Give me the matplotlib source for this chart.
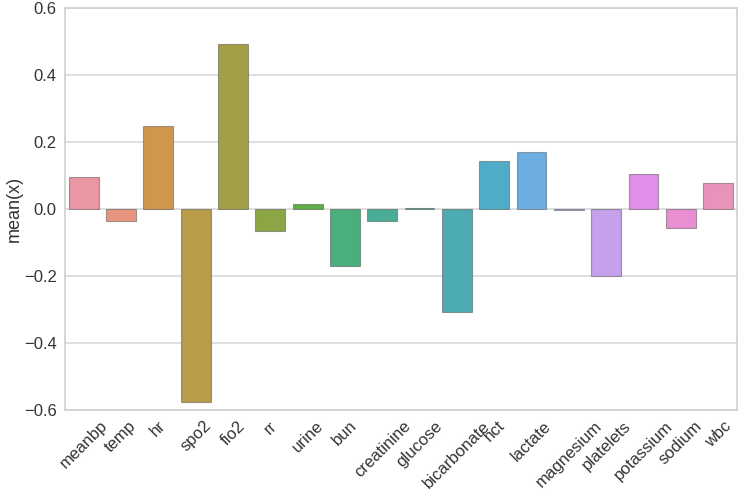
import matplotlib
matplotlib.use('Agg')
import matplotlib.pyplot as plt
import seaborn as sns
import numpy as np

# Data
features = ['meanbp', 'temp', 'hr', 'spo2', 'fio2', 'rr', 'urine', 'bun',
            'creatinine', 'glucose', 'bicarbonate', 'hct', 'lactate',
            'magnesium', 'platelets', 'potassium', 'sodium', 'wbc']
mean_x = [0.096, -0.036, 0.248, -0.576, 0.493, -0.066, 0.013, -0.170,
          -0.036, 0.002, -0.307, 0.143, 0.170, -0.003, -0.200, 0.104,
          -0.057, 0.078]
y_ticks = [-0.6, -0.4, -0.2, 0.0, 0.2, 0.4, 0.6]


def main():
    sns.set_style('whitegrid')
    plt.rcParams['font.family'] = ['Liberation Sans', 'DejaVu Sans']

    fig = plt.figure(figsize=(7.39, 4.92), dpi=100)
    ax = fig.add_axes([0.088, 0.167, 0.909, 0.817])

    palette = sns.husl_palette(len(features), l=.7)
    palette = [sns.desaturate(c, 0.75) for c in palette]
    x = np.arange(len(features))
    ax.bar(x, mean_x, width=0.8, color=palette,
           edgecolor=(0.25, 0.25, 0.25, 0.45), linewidth=0.8, zorder=2)

    ax.set_xlim(-0.5, len(features) - 0.5)
    ax.set_ylim(-0.6, 0.6)
    ax.set_yticks(y_ticks)
    ax.set_yticklabels(['\u22120.6', '\u22120.4', '\u22120.2', '0.0', '0.2', '0.4', '0.6'])
    ax.set_xticks(x)
    ax.set_xticklabels(features, rotation=45, ha='center')
    ax.xaxis.grid(False)
    ax.yaxis.grid(True, color='#d9d9d9', linewidth=1.2, zorder=0)
    ax.set_axisbelow(True)
    for s in ax.spines.values():
        s.set_color('#d0d0d0')
        s.set_linewidth(1.2)
    ax.tick_params(axis='both', labelsize=12, colors='#333333', length=0, pad=6)
    ax.set_ylabel('mean(x)', fontsize=13, color='#333333', labelpad=1)

    fig.savefig('out.png', dpi=100)


if __name__ == '__main__':
    main()
